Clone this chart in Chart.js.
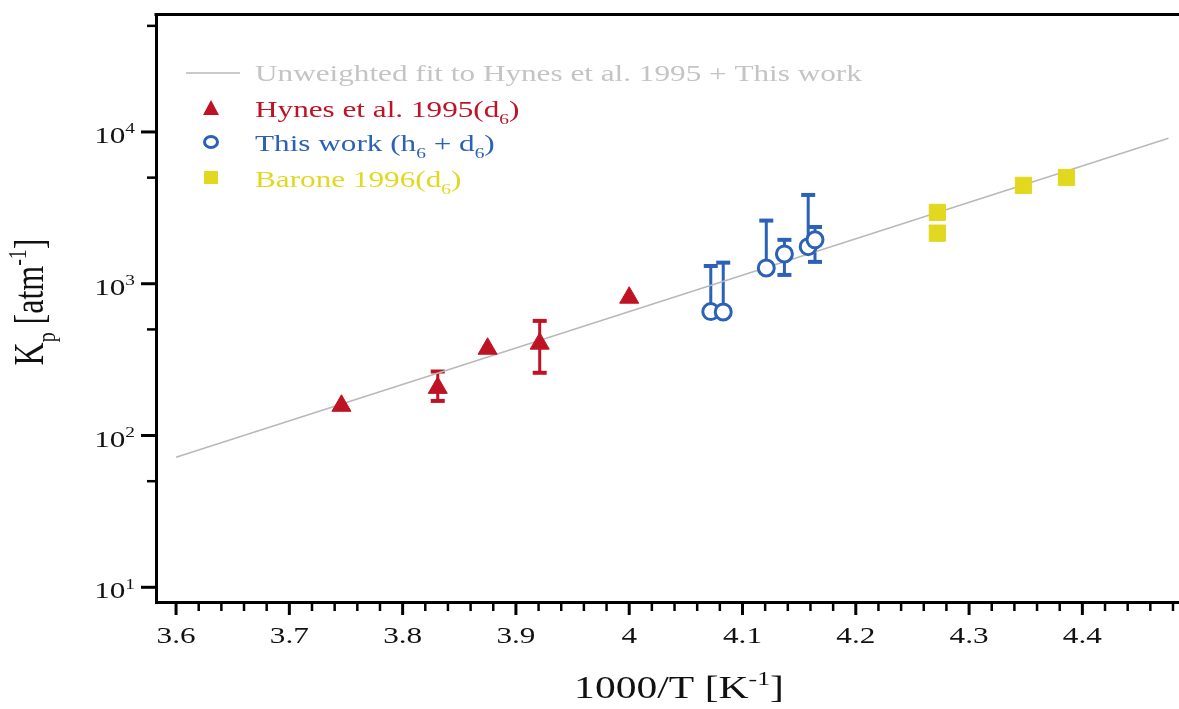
<!DOCTYPE html>
<html><head><meta charset="utf-8">
<script src="https://cdn.jsdelivr.net/npm/chart.js@4.4.1/dist/chart.umd.min.js"></script>
<style>html,body{margin:0;padding:0;background:#fff;}#wrap{width:1179px;height:709px;position:relative;}</style>
</head><body><div id="wrap"><canvas id="c" width="1179" height="709"></canvas></div>
<script>
// ---- data ----
const hynesX = [3.746, 3.831, 3.875, 3.921, 4.0];
const hynesY = [157, 206, 373, 403, 809];
const hynesErrHi = [null, 264, null, 569, null];
const hynesErrLo = [null, 169, null, 259, null];

const workX = [4.072, 4.083, 4.121, 4.137, 4.158, 4.164];
const workY = [655, 652, 1271, 1571, 1755, 1946];
const workErrHi = [1309, 1377, 2606, 1946, 3846, 2366];
const workErrLo = [null, null, null, 1143, null, 1393];

const baroneX = [4.272, 4.272, 4.348, 4.386];
const baroneY = [2951, 2153, 4446, 5011];

const fitX = [3.6, 4.476];
const fitY = [72, 9100];

const xTickLabels = ['3.6', '3.7', '3.8', '3.9', '4', '4.1', '4.2', '4.3', '4.4'];
const yTickExponents = [1, 2, 3, 4];
const yMinorTicks = [50, 500, 5000, 50000];

const legendLabels = [
  [{t: 'Unweighted fit to Hynes et al. 1995 + This work'}],
  [{t: 'Hynes et al. 1995(d'}, {t: '6', s: 'sub'}, {t: ')'}],
  [{t: 'This work (h'}, {t: '6', s: 'sub'}, {t: ' + d'}, {t: '6', s: 'sub'}, {t: ')'}],
  [{t: 'Barone 1996(d'}, {t: '6', s: 'sub'}, {t: ')'}]
];

const COL_FIT = '#b8b8b8', COL_FIT_TXT = '#c4c4c4';
const COL_RED = '#bf1325', COL_BLUE = '#2b61b6', COL_YEL = '#e2d81f';
const FONT = '"Liberation Serif", "Times New Roman", serif';
const SX = 1.3; // horizontal stretch of the reference text

function toPts(xs, ys) { return xs.map((x, i) => ({x: x, y: ys[i]})); }

function richWidth(ctx, segs, size) {
  let w = 0;
  for (const sg of segs) {
    const fs = sg.s ? size * 0.62 : size;
    ctx.font = fs + 'px ' + FONT;
    w += ctx.measureText(sg.t).width;
  }
  return w;
}
function rich(ctx, segs, x, y, size, color, align, rotate) {
  ctx.save();
  ctx.translate(x, y);
  ctx.scale(SX, 1);
  if (rotate) ctx.rotate(-Math.PI / 2);
  ctx.fillStyle = color;
  ctx.textBaseline = 'alphabetic';
  ctx.textAlign = 'left';
  const w = richWidth(ctx, segs, size);
  let cx = align === 'center' ? -w / 2 : (align === 'right' ? -w : 0);
  for (const sg of segs) {
    const fs = sg.s ? size * 0.62 : size;
    ctx.font = fs + 'px ' + FONT;
    let dy = 0;
    if (sg.s === 'sub') dy = size * 0.28;
    if (sg.s === 'sup') dy = -size * 0.40;
    ctx.fillText(sg.t, cx, dy);
    cx += ctx.measureText(sg.t).width;
  }
  ctx.restore();
}

function drawErrBars(ctx, xs, ys, hi, lo, xScale, yScale, color) {
  ctx.save();
  ctx.strokeStyle = color;
  for (let i = 0; i < xs.length; i++) {
    const px = xScale.getPixelForValue(xs[i]);
    const py = yScale.getPixelForValue(ys[i]);
    [hi[i], lo[i]].forEach(v => {
      if (v == null) return;
      const pv = yScale.getPixelForValue(v);
      ctx.lineWidth = 3;
      ctx.beginPath(); ctx.moveTo(px, py); ctx.lineTo(px, pv); ctx.stroke();
      ctx.lineWidth = 4;
      ctx.beginPath(); ctx.moveTo(px - 7, pv); ctx.lineTo(px + 7, pv); ctx.stroke();
    });
  }
  ctx.restore();
}

const decorPlugin = {
  id: 'decor',
  beforeDatasetsDraw(chart) {
    const {ctx, scales: {x, y}} = chart;
    drawErrBars(ctx, hynesX, hynesY, hynesErrHi, hynesErrLo, x, y, COL_RED);
    drawErrBars(ctx, workX, workY, workErrHi, workErrLo, x, y, COL_BLUE);
  },
  afterDraw(chart) {
    const {ctx, chartArea: ca, scales: {x, y}} = chart;
    ctx.save();
    // top frame line
    ctx.strokeStyle = '#000';
    ctx.lineWidth = 3;
    ctx.beginPath(); ctx.moveTo(ca.left - 1.5, ca.top); ctx.lineTo(ca.right, ca.top); ctx.stroke();
    // x ticks
    ctx.lineCap = 'butt';
    xTickLabels.forEach(lbl => {
      const px = x.getPixelForValue(parseFloat(lbl));
      ctx.lineWidth = 3;
      ctx.beginPath(); ctx.moveTo(px, ca.bottom); ctx.lineTo(px, ca.bottom + 13); ctx.stroke();
      rich(ctx, [{t: lbl}], px, 643, 24, '#111', 'center');
    });
    for (let k = 0; k < 60; k++) {
      const v = 3.6 + k * 0.02;
      if (k % 5 === 0) continue;
      if (v > x.max) break;
      const px = x.getPixelForValue(v);
      ctx.lineWidth = 2.5;
      ctx.beginPath(); ctx.moveTo(px, ca.bottom); ctx.lineTo(px, ca.bottom + 9); ctx.stroke();
    }
    // y ticks
    yTickExponents.forEach(e => {
      const py = y.getPixelForValue(Math.pow(10, e));
      ctx.lineWidth = 3;
      ctx.beginPath(); ctx.moveTo(ca.left, py); ctx.lineTo(ca.left - 15, py); ctx.stroke();
      rich(ctx, [{t: '10'}, {t: String(e), s: 'sup'}], 135, py + 11, 24, '#111', 'right');
    });
    yMinorTicks.forEach(v => {
      const py = y.getPixelForValue(v);
      ctx.lineWidth = 2.5;
      ctx.beginPath(); ctx.moveTo(ca.left, py); ctx.lineTo(ca.left - 9, py); ctx.stroke();
    });
    // axis titles
    rich(ctx, [{t: '1000/T [K'}, {t: '-1', s: 'sup'}, {t: ']'}], 679, 698, 32, '#111', 'center');
    rich(ctx, [{t: 'K'}, {t: 'p', s: 'sub'}, {t: ' [atm'}, {t: '-1', s: 'sup'}, {t: ']'}], 43, 302, 32, '#111', 'center', true);

    // legend
    ctx.strokeStyle = COL_FIT; ctx.lineWidth = 1.5;
    ctx.beginPath(); ctx.moveTo(186, 73); ctx.lineTo(240, 73); ctx.stroke();
    rich(ctx, legendLabels[0], 255, 81, 24, COL_FIT_TXT, 'left');
    // triangle
    ctx.fillStyle = COL_RED;
    ctx.beginPath(); ctx.moveTo(211, 100); ctx.lineTo(219, 115); ctx.lineTo(203, 115); ctx.closePath(); ctx.fill();
    rich(ctx, legendLabels[1], 255, 117, 24, COL_RED, 'left');
    // circle
    ctx.strokeStyle = COL_BLUE; ctx.lineWidth = 3;
    ctx.beginPath(); ctx.ellipse(211, 142, 6.5, 5.5, 0, 0, Math.PI * 2); ctx.stroke();
    rich(ctx, legendLabels[2], 255, 151, 24, COL_BLUE, 'left');
    // square
    ctx.fillStyle = COL_YEL;
    ctx.fillRect(204, 171, 14, 13);
    rich(ctx, legendLabels[3], 255, 187, 24, COL_YEL, 'left');
    ctx.restore();
  }
};

new Chart(document.getElementById('c'), {
  type: 'scatter',
  data: {
    datasets: [
      {label: 'Unweighted fit to Hynes et al. 1995 + This work', type: 'line', data: toPts(fitX, fitY),
       borderColor: COL_FIT, borderWidth: 1.5, pointRadius: 0, fill: false, showLine: true, order: 4},
      {label: 'Hynes et al. 1995(d6)', data: toPts(hynesX, hynesY), pointStyle: 'triangle', pointRadius: 11,
       backgroundColor: COL_RED, borderColor: COL_RED, borderWidth: 1, order: 3},
      {label: 'This work (h6 + d6)', data: toPts(workX, workY), pointStyle: 'circle', pointRadius: 8,
       backgroundColor: '#ffffff', borderColor: COL_BLUE, borderWidth: 3, order: 2},
      {label: 'Barone 1996(d6)', data: toPts(baroneX, baroneY), pointStyle: 'rect', pointRadius: 11.5,
       backgroundColor: COL_YEL, borderColor: COL_YEL, borderWidth: 1, order: 1}
    ]
  },
  options: {
    responsive: false, animation: false, devicePixelRatio: 1,
    layout: {autoPadding: false, padding: {top: 14.5, right: 0, left: 0, bottom: 0}},
    plugins: {legend: {display: false}, tooltip: {enabled: false}},
    scales: {
      x: {type: 'linear', min: 3.5823, max: 4.4853,
          grid: {display: false, drawTicks: false}, ticks: {display: false},
          border: {display: true, color: '#000', width: 3},
          afterFit: s => { s.height = 107; }},
      y: {type: 'logarithmic', min: 8, max: 59400,
          grid: {display: false, drawTicks: false}, ticks: {display: false},
          border: {display: true, color: '#000', width: 3},
          afterFit: s => { s.width = 156; }}
    }
  },
  plugins: [decorPlugin]
});
</script></body></html>
